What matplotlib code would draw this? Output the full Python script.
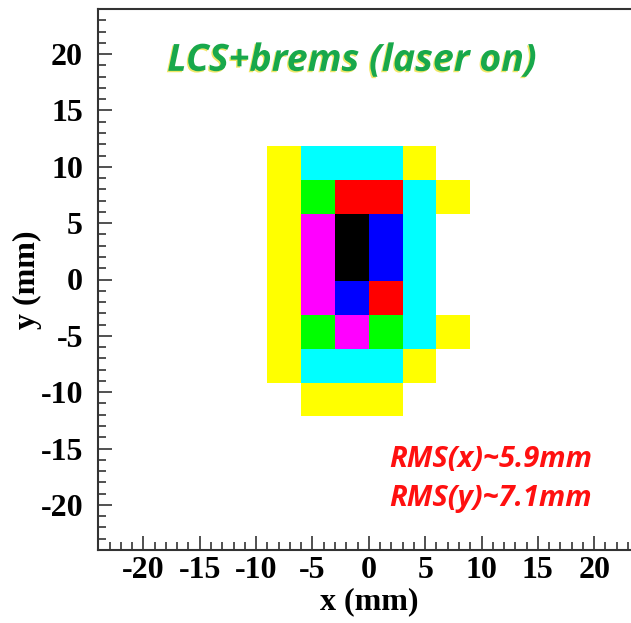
import numpy as np
import matplotlib
matplotlib.use("Agg")
import matplotlib.pyplot as plt
from matplotlib.colors import ListedColormap, BoundaryNorm
import matplotlib.patheffects as pe
from matplotlib.ticker import MultipleLocator

plt.rcParams["axes.unicode_minus"] = False

# Beam-spot histogram: 3 mm bins, colour level per bin (0 = empty)
x_edges = [-9, -6, -3, 0, 3, 6, 9]
y_edges = [-12.15, -9.15, -6.15, -3.15, -0.15, 2.85, 5.85, 8.85, 11.85]
levels = [
    [0, 1, 1, 1, 0, 0],   # y -12 .. -9
    [1, 2, 2, 2, 1, 0],   # y  -9 .. -6
    [1, 3, 4, 3, 2, 1],   # y  -6 .. -3
    [1, 4, 6, 5, 2, 0],   # y  -3 ..  0
    [1, 4, 7, 6, 2, 0],   # y   0 ..  3
    [1, 4, 7, 6, 2, 0],   # y   3 ..  6
    [1, 3, 5, 5, 2, 1],   # y   6 ..  9
    [1, 2, 2, 2, 1, 0],   # y   9 .. 12
]
palette = ["#ffff00", "#00ffff", "#00ff00", "#ff00ff", "#ff0000", "#0000ff", "#000000"]

title_text = "LCS+brems (laser on)"
rms_lines = ["RMS(x)~5.9mm", "RMS(y)~7.1mm"]
ticks = [-20, -15, -10, -5, 0, 5, 10, 15, 20]

W, H = 631, 623
fig = plt.figure(figsize=(W / 100, H / 100), dpi=100)
ax = fig.add_axes([98.3 / W, (H - 550) / H, 541 / W, 541 / H])

z = np.ma.masked_equal(np.array(levels, dtype=float), 0)
cmap = ListedColormap(palette)
norm = BoundaryNorm(np.arange(0.5, len(palette) + 1.5, 1), cmap.N)
ax.pcolormesh(x_edges, y_edges, z, cmap=cmap, norm=norm, edgecolors="none")

ax.set_xlim(-24, 24)
ax.set_ylim(-24, 24)

for s in ax.spines.values():
    s.set_linewidth(1.5)
    s.set_color("#333333")

serif = {"family": "Liberation Serif", "weight": "bold", "size": 23}
ax.set_xticks(ticks)
ax.set_yticks(ticks)
ax.set_xticklabels([str(t) for t in ticks], fontdict=serif)
ax.set_yticklabels([str(t) for t in ticks], fontdict=serif)
ax.xaxis.set_minor_locator(MultipleLocator(1))
ax.yaxis.set_minor_locator(MultipleLocator(1))
ax.tick_params(which="both", direction="in", top=False, right=False, color="#222222")
ax.tick_params(which="major", length=10, width=1.1)
ax.tick_params(which="minor", length=5.5, width=1.1)
ax.tick_params(axis="x", which="major", pad=4)
ax.tick_params(axis="y", which="major", pad=11)

ax.set_xlabel("x (mm)", fontdict=serif, labelpad=2)
ax.set_ylabel("y (mm)", fontdict=serif, labelpad=-1)

sans = {"family": "Open Sans", "weight": "bold", "style": "italic"}
ax.text(-1.5, 19.4, title_text, color="#18a84c", fontsize=27, ha="center", va="center",
        path_effects=[pe.withSimplePatchShadow(offset=(-1, -1), shadow_rgbFace="#e6d800", alpha=0.6)],
        **sans)

ax.text(1.8, -16.0, rms_lines[0], color="#ff1010", fontsize=21, ha="left", va="center", **sans)
ax.text(1.8, -19.4, rms_lines[1], color="#ff1010", fontsize=21, ha="left", va="center", **sans)

fig.savefig("out.png", dpi=100)
